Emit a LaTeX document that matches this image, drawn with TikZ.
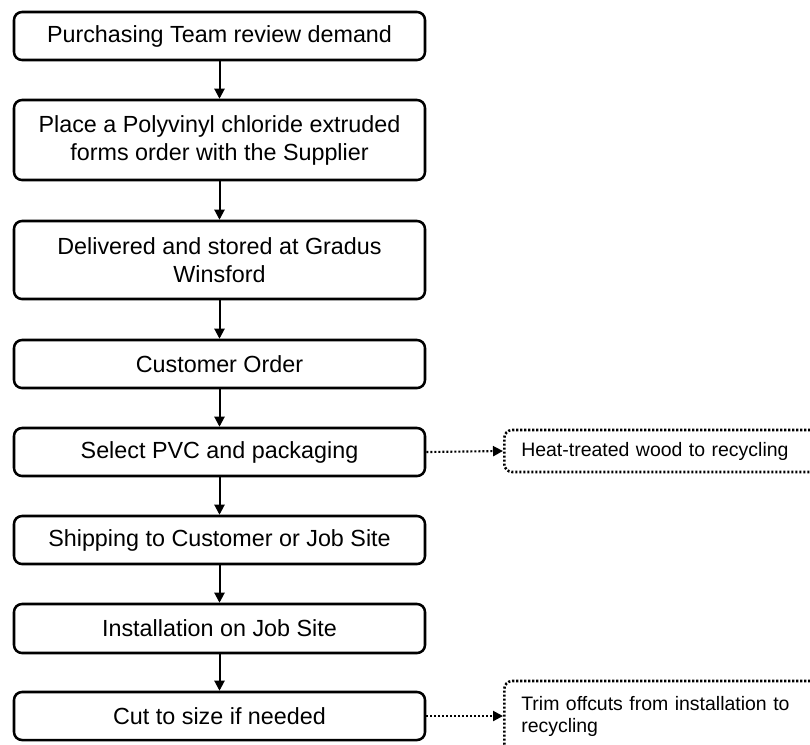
\documentclass[tikz,border=0pt]{standalone}
\usepackage{fontspec}
\setmainfont{Liberation Sans}
\usetikzlibrary{arrows.meta}
\begin{document}
\begin{tikzpicture}[x=0.75pt,y=-0.75pt,
 stepbox/.style={draw=black, line width=1.9pt, rounded corners=6pt, minimum width=308.25pt, align=center, font=\fontsize{17.5}{21}\selectfont, inner sep=0pt, fill=white},
 sidebox/.style={draw=black, line width=1.9pt, dash pattern=on 1.6pt off 1.4pt, rounded corners=6pt, anchor=west, minimum width=247.5pt, text width=222pt, align=left, inner xsep=12.75pt, inner ysep=0pt, font=\fontsize{14.6}{16.5}\selectfont},
 flow/.style={line width=1.5pt, -{Triangle[length=7.5pt,width=7.5pt]}},
 side/.style={line width=1.6pt, dash pattern=on 1.6pt off 1.4pt, -{Triangle[length=7.5pt,width=7.5pt]}}
]
\useasboundingbox (0,0) rectangle (810,744);
\clip (0,0) rectangle (810,744);
\fill[white] (0,0) rectangle (810,744);

\node[stepbox, minimum height=36pt]   (b1) at (219.5,36)    {Purchasing Team review demand};
\node[stepbox, minimum height=60pt]   (b2) at (219.5,140)   {Place a Polyvinyl chloride extruded\\forms order with the Supplier};
\node[stepbox, minimum height=58.5pt] (b3) at (219.5,260)   {Delivered and stored at Gradus\\Winsford};
\node[stepbox, minimum height=36pt]   (b4) at (219.5,364)   {Customer Order};
\node[stepbox, minimum height=36pt]   (b5) at (219.5,452)   {Select PVC and packaging};
\node[stepbox, minimum height=36pt]   (b6) at (219.5,540)   {Shipping to Customer or Job Site};
\node[stepbox, minimum height=36.75pt](b7) at (219.5,628.5) {Installation on Job Site};
\node[stepbox, minimum height=36pt]   (b8) at (219.5,716)   {Cut to size if needed};

\node[sidebox, minimum height=31.5pt] (r1) at (503,451) {Heat-treated wood to recycling};
\node[sidebox, minimum height=52.5pt] (r2) at (503,716) {Trim offcuts from installation to\\recycling};

\draw[flow] (b1) -- (b2);
\draw[flow] (b2) -- (b3);
\draw[flow] (b3) -- (b4);
\draw[flow] (b4) -- (b5);
\draw[flow] (b5) -- (b6);
\draw[flow] (b6) -- (b7);
\draw[flow] (b7) -- (b8);

\draw[side] (b5.east) -- (r1.west);
\draw[side] (b8.east) -- (r2.west);
\end{tikzpicture}
\end{document}
